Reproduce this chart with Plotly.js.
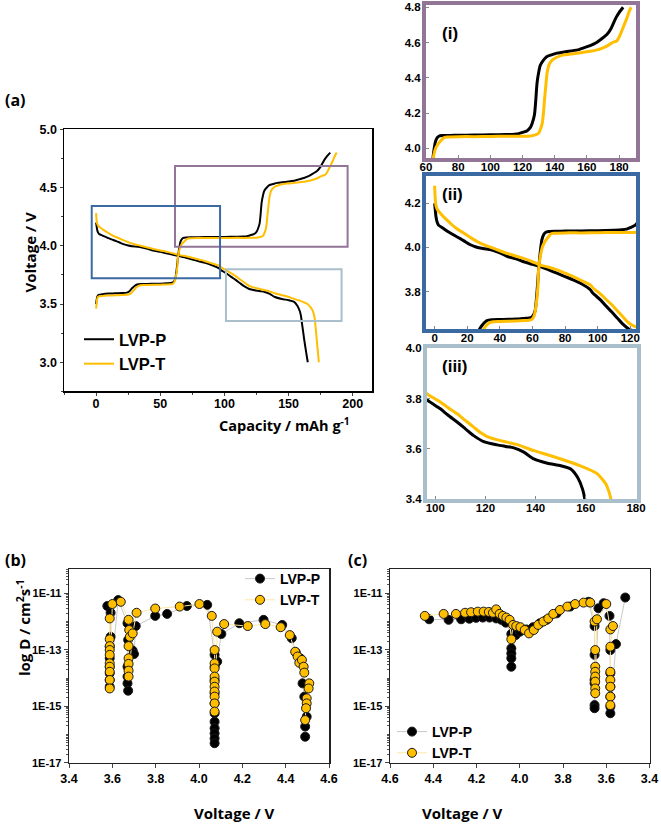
<!DOCTYPE html>
<html>
<head>
<meta charset="utf-8">
<script src="https://cdn.plot.ly/plotly-3.0.1.min.js"></script>
<style>html,body{margin:0;padding:0;background:#fff;}#chart{width:661px;height:836px;}</style>
</head>
<body>
<div id="chart"></div>
<script>
// ---------- Panel (a): charge / discharge curves ----------
const chargeP_cap = [0,0.5,1,2,5,10,15,20,24,26,28,30,32,35,40,45,50,55,58,59.7,61,61.8,62.8,63.8,64.8,65.8,67,68,70,75,80,90,100,110,115,117.7,120,122.9,125,126,127.4,128.2,129,130,131,133,135,138,141.4,145,150,155,158,162,166,169,172.4,175,176.5,178,180,182.5];
const chargeP_V   = [3.50,3.54,3.565,3.578,3.585,3.59,3.592,3.595,3.598,3.61,3.635,3.655,3.668,3.672,3.673,3.674,3.675,3.678,3.68,3.685,3.70,3.72,3.80,3.90,3.98,4.035,4.06,4.068,4.072,4.073,4.074,4.075,4.076,4.078,4.08,4.083,4.09,4.10,4.12,4.142,4.19,4.27,4.37,4.43,4.47,4.50,4.52,4.53,4.54,4.545,4.552,4.56,4.57,4.582,4.60,4.62,4.645,4.68,4.71,4.74,4.77,4.80];
const chargeT_cap = [0,0.5,1,2,5,10,15,20,25,27,29.5,31,33.5,36,40,50,55,58,59.7,61,62.4,63.3,63.8,64.8,66,67.2,68.5,70,71,73,80,90,100,110,120,125,127,130,131.2,132.2,133,133.6,134.5,135.3,136.5,138.4,141,145.6,150,155,162,167,172.4,176,178.6,180.5,182.7,184.5,186.4,187.5];
const chargeT_V   = [3.46,3.51,3.55,3.565,3.57,3.573,3.575,3.578,3.582,3.59,3.62,3.64,3.658,3.663,3.664,3.666,3.668,3.67,3.674,3.69,3.747,3.82,3.90,3.96,4.00,4.02,4.035,4.05,4.06,4.064,4.066,4.066,4.067,4.068,4.068,4.07,4.073,4.085,4.11,4.14,4.20,4.27,4.36,4.43,4.475,4.50,4.515,4.53,4.535,4.54,4.55,4.56,4.58,4.60,4.61,4.64,4.69,4.73,4.78,4.80];
const dischP_cap = [0,0.4,0.8,1.5,2.5,5,8.6,12,15.7,19,21.9,25,28,34,40,44.4,50,54.6,60,64.8,70,75,80,85,90,95.5,97,102,105,108.7,112,115.3,119.3,124.7,128,131.3,135.3,139.3,144.7,150,154,156.7,158.7,159.6,160.5,161.5,162.5,163.5,164.5,165];
const dischP_V   = [4.20,4.17,4.14,4.115,4.10,4.088,4.07,4.055,4.04,4.025,4.012,4.003,3.997,3.99,3.975,3.96,3.948,3.935,3.923,3.913,3.898,3.883,3.868,3.853,3.835,3.808,3.793,3.76,3.735,3.707,3.68,3.653,3.629,3.616,3.61,3.604,3.587,3.56,3.543,3.533,3.52,3.487,3.44,3.40,3.33,3.25,3.17,3.10,3.03,3.00];
const dischT_cap = [0,0.3,0.8,2,3.5,6,9.6,13,17.8,22,26,30,34,40,44.4,50,54.6,60,64.8,70,75,80,85,90,95.5,97,102,105,108.7,112,115.3,118,120.7,126,132.7,136,139.3,146,152.7,159.3,162,164.7,166.5,168,169.2,170,170.8,171.5,172.3,173,173.6];
const dischT_V   = [4.28,4.23,4.19,4.168,4.155,4.135,4.11,4.088,4.065,4.045,4.027,4.013,4.002,3.985,3.973,3.96,3.95,3.935,3.92,3.91,3.898,3.883,3.868,3.85,3.83,3.817,3.787,3.765,3.74,3.713,3.687,3.665,3.649,3.633,3.617,3.605,3.593,3.573,3.551,3.527,3.515,3.50,3.48,3.46,3.43,3.40,3.33,3.25,3.15,3.07,3.00];

// ---------- Panel (b): charge GITT, log10 D ----------
const bP_V   = [3.577,3.592,3.592,3.588,3.588,3.588,3.588,3.588,3.588,3.627,3.670,3.673,3.670,3.670,3.670,3.673,3.694,3.700,3.708,3.798,3.853,3.944,4.038,4.072,4.072,4.072,4.072,4.072,4.072,4.072,4.072,4.072,4.072,4.072,4.084,4.103,4.186,4.298,4.384,4.428,4.447,4.467,4.478,4.486,4.497,4.490,4.490];
const bP_logD = [-11.45,-11.69,-12.54,-12.89,-13.30,-13.60,-13.83,-14.07,-14.31,-11.24,-12.06,-12.65,-13.60,-13.95,-14.19,-14.45,-13.03,-13.15,-12.16,-11.80,-11.73,-11.45,-11.41,-13.18,-13.60,-14.07,-14.54,-14.90,-15.25,-15.55,-15.78,-15.96,-16.14,-16.31,-13.42,-12.44,-12.06,-11.94,-12.12,-12.59,-13.10,-13.30,-14.19,-14.66,-15.37,-15.72,-16.08];
const bT_V   = [3.588,3.588,3.588,3.588,3.588,3.588,3.588,3.588,3.588,3.588,3.600,3.639,3.675,3.678,3.681,3.675,3.675,3.675,3.675,3.675,3.694,3.712,3.798,3.911,4.002,4.059,4.072,4.072,4.072,4.072,4.072,4.072,4.072,4.072,4.072,4.072,4.084,4.116,4.225,4.306,4.377,4.419,4.444,4.455,4.463,4.475,4.483,4.486,4.509,4.506,4.497,4.497,4.494,4.490];
const bT_logD = [-11.89,-12.63,-12.87,-13.01,-13.18,-13.48,-13.60,-13.78,-14.07,-14.37,-11.38,-11.30,-11.94,-12.30,-12.54,-12.87,-13.30,-13.50,-13.74,-13.95,-12.42,-11.69,-11.54,-11.47,-11.38,-11.80,-13.01,-13.48,-13.66,-13.95,-14.13,-14.31,-14.48,-14.66,-14.90,-15.19,-12.36,-12.09,-12.16,-12.09,-12.20,-12.48,-13.07,-13.24,-13.46,-13.36,-13.60,-13.81,-14.19,-14.37,-14.72,-14.90,-15.07,-15.49];

// ---------- Panel (c): discharge GITT, log10 D ----------
const cP_V   = [4.419,4.329,4.271,4.233,4.202,4.171,4.140,4.109,4.085,4.065,4.039,4.039,4.039,4.039,4.039,4.019,4.000,3.969,3.938,3.907,3.876,3.829,3.767,3.682,3.654,3.654,3.654,3.654,3.654,3.654,3.636,3.612,3.585,3.581,3.581,3.581,3.581,3.581,3.581,3.555,3.512];
const cP_logD = [-11.92,-11.94,-11.92,-11.90,-11.87,-11.86,-11.86,-11.89,-11.94,-12.04,-12.44,-12.95,-13.13,-13.30,-13.60,-12.48,-12.36,-12.28,-12.20,-12.06,-11.94,-11.71,-11.47,-11.30,-12.16,-13.18,-14.07,-14.19,-14.96,-15.07,-11.53,-11.35,-11.80,-13.01,-13.83,-14.31,-14.66,-15.02,-15.25,-12.80,-11.15];
const cT_V   = [4.439,4.352,4.295,4.253,4.225,4.194,4.167,4.143,4.124,4.109,4.093,4.078,4.062,4.047,4.039,4.031,4.016,3.997,3.977,3.957,3.935,3.915,3.891,3.868,3.845,3.814,3.780,3.744,3.705,3.674,3.654,3.651,3.651,3.651,3.651,3.651,3.651,3.651,3.643,3.600,3.581,3.569,3.581,3.581,3.581,3.581,3.581,3.581];
const cT_logD = [-11.80,-11.73,-11.73,-11.69,-11.67,-11.65,-11.65,-11.66,-11.69,-11.57,-11.73,-11.80,-11.86,-11.94,-12.63,-12.12,-12.16,-12.20,-12.30,-12.42,-12.30,-12.12,-12.00,-11.89,-11.73,-11.59,-11.47,-11.38,-11.33,-11.33,-12.00,-13.01,-13.60,-13.78,-13.95,-14.13,-14.37,-14.54,-11.92,-11.38,-12.28,-12.16,-12.89,-13.78,-14.07,-14.31,-14.66,-14.96];

// tick labels
const dTickVals = [1e-17,1e-15,1e-13,1e-11];
const dTickText = ['1E-17','1E-15','1E-13','1E-11'];

// ---------- styling / layout ----------
const W = 661, H = 836;
const px = (a, b) => [a / W, b / W];
const py = (top, bottom) => [1 - bottom / H, 1 - top / H];
const BLACK = '#000000', YEL = '#FFBE00';
const ARIAL = 'Liberation Sans, Arial, sans-serif';
const OPEN = 'Open Sans, Liberation Sans, sans-serif';
const toD = a => a.map(v => Math.pow(10, v));

function curve(x, y, color, w, xa, ya, name, show, leg) {
  return {x: x, y: y, type: 'scatter', mode: 'lines', name: name,
    line: {color: color, width: w, shape: 'spline', smoothing: 0.6},
    xaxis: xa, yaxis: ya, showlegend: !!show, legend: leg || 'legend', hoverinfo: 'skip'};
}
function dots(x, y, fill, lineCol, xa, ya, name, leg) {
  return {x: x, y: toD(y), type: 'scatter', mode: 'lines+markers', name: name,
    line: {color: lineCol, width: 1},
    marker: {size: 9, color: fill, line: {color: '#1a1a1a', width: 1}},
    xaxis: xa, yaxis: ya, legend: leg, hoverinfo: 'skip'};
}

const traces = [
  // main (a)
  curve(dischP_cap, dischP_V, BLACK, 2, 'x', 'y', 'LVP-P', false),
  curve(dischT_cap, dischT_V, YEL, 2, 'x', 'y', 'LVP-T', false),
  curve(chargeP_cap, chargeP_V, BLACK, 2, 'x', 'y', 'LVP-P', true),
  curve(chargeT_cap, chargeT_V, YEL, 2, 'x', 'y', 'LVP-T', true),
  // inset (i)
  curve(chargeP_cap, chargeP_V, BLACK, 3, 'x2', 'y2', 'LVP-P', false),
  curve(chargeT_cap, chargeT_V, YEL, 3, 'x2', 'y2', 'LVP-T', false),
  // inset (ii)
  curve(chargeP_cap, chargeP_V, BLACK, 3, 'x3', 'y3', 'LVP-P', false),
  curve(dischP_cap, dischP_V, BLACK, 3, 'x3', 'y3', 'LVP-P', false),
  curve(chargeT_cap, chargeT_V, YEL, 3, 'x3', 'y3', 'LVP-T', false),
  curve(dischT_cap, dischT_V, YEL, 3, 'x3', 'y3', 'LVP-T', false),
  // inset (iii)
  curve(dischP_cap, dischP_V, BLACK, 3, 'x4', 'y4', 'LVP-P', false),
  curve(dischT_cap, dischT_V, YEL, 3, 'x4', 'y4', 'LVP-T', false),
  // (b)
  dots(bP_V, bP_logD, BLACK, '#c8c8c8', 'x5', 'y5', 'LVP-P', 'legend2'),
  dots(bT_V, bT_logD, YEL, '#ffe7a3', 'x5', 'y5', 'LVP-T', 'legend2'),
  // (c)
  dots(cP_V, cP_logD, BLACK, '#c8c8c8', 'x6', 'y6', 'LVP-P', 'legend3'),
  dots(cT_V, cT_logD, YEL, '#ffe7a3', 'x6', 'y6', 'LVP-T', 'legend3')
];

const tickFontMain = {family: ARIAL, size: 12.5, color: '#000', weight: 700};
const tickFontInset = {family: ARIAL, size: 11.5, color: '#000', weight: 700};
const base = {showgrid: false, zeroline: false, showline: true, mirror: true, fixedrange: true};

function insetAxis(domain, range, dtick, color, fmt, anchor, standoff) {
  return Object.assign({}, base, {domain: domain, range: range, dtick: dtick, tick0: 0,
    linecolor: color, linewidth: 4, ticks: 'inside', ticklen: 3, tickcolor: '#888',
    tickfont: tickFontInset, tickformat: fmt, anchor: anchor, ticklabelstandoff: standoff});
}

const PURPLE = '#927597', BLUE = '#3b6aa3', LIGHT = '#a9bfcc';

const layout = {
  width: W, height: H, margin: {l: 0, r: 0, t: 0, b: 0},
  paper_bgcolor: '#fff', plot_bgcolor: '#fff',
  xaxis: Object.assign({}, base, {domain: px(64, 372), range: [-25, 215], dtick: 50, tick0: 0,
    linecolor: '#000', linewidth: 1.5, ticks: 'outside', ticklen: 3, ticklabelstandoff: -3,
    minor: {dtick: 25, ticks: 'outside', ticklen: 2}, tickfont: tickFontMain, anchor: 'y'}),
  yaxis: Object.assign({}, base, {domain: py(129.3, 391.4), range: [2.75, 5.0], dtick: 0.5, tick0: 0,
    linecolor: '#000', linewidth: 1.5, ticks: 'outside', ticklen: 3, tickformat: '.1f',
    minor: {dtick: 0.25, ticks: 'outside', ticklen: 2}, tickfont: tickFontMain, anchor: 'x'}),
  xaxis2: insetAxis(px(426, 636), [60, 190.5], 20, PURPLE, 'd', 'y2', -5),
  yaxis2: insetAxis(py(5, 158.3), [3.943, 4.813], 0.2, PURPLE, '.1f', 'x2', -1),
  xaxis3: insetAxis(px(426, 636), [-5.3, 123.5], 20, BLUE, 'd', 'y3', -5),
  yaxis3: insetAxis(py(176, 329), [3.63, 4.324], 0.2, BLUE, '.1f', 'x3', -1),
  xaxis4: insetAxis(px(427, 637), [96.7, 180.4], 20, LIGHT, 'd', 'y4', -5),
  yaxis4: insetAxis(py(348.3, 499.3), [3.3995, 4.0005], 0.2, LIGHT, '.1f', 'x4', -1),
  xaxis5: Object.assign({}, base, {domain: px(69, 329), range: [3.4, 4.6], dtick: 0.2, tick0: 0,
    tickformat: '.1f', linecolor: '#222', linewidth: 1.5, ticks: 'outside', ticklen: 4,
    tickfont: tickFontMain, anchor: 'y5'}),
  yaxis5: Object.assign({}, base, {domain: py(569.3, 762.7), type: 'log', range: [-17, -10.15],
    tickmode: 'array', tickvals: dTickVals, ticktext: dTickText,
    linecolor: '#222', linewidth: 1.5, ticks: 'outside', ticklen: 4,
    minor: {dtick: 'D1', ticks: 'outside', ticklen: 2, tickcolor: '#555'},
    tickfont: {family: ARIAL, size: 11, color: '#000', weight: 700}, anchor: 'x5'}),
  xaxis6: Object.assign({}, base, {domain: px(390, 649.5), range: [4.6, 3.4], dtick: 0.2, tick0: 0,
    tickformat: '.1f', linecolor: '#222', linewidth: 1.5, ticks: 'outside', ticklen: 4,
    tickfont: tickFontMain, anchor: 'y6'}),
  yaxis6: Object.assign({}, base, {domain: py(569.3, 762.7), type: 'log', range: [-17, -10.15],
    tickmode: 'array', tickvals: dTickVals, ticktext: dTickText,
    linecolor: '#222', linewidth: 1.5, ticks: 'outside', ticklen: 4,
    minor: {dtick: 'D1', ticks: 'outside', ticklen: 2, tickcolor: '#555'},
    tickfont: {family: ARIAL, size: 11, color: '#000', weight: 700}, anchor: 'x6'}),
  legend: {x: 79 / W, y: 1 - 322 / H, xanchor: 'left', yanchor: 'top', bgcolor: 'rgba(0,0,0,0)',
    font: {family: ARIAL, size: 16.5, color: '#000', weight: 700}, tracegroupgap: 0},
  legend2: {x: 240 / W, y: 1 - 563 / H, xanchor: 'left', yanchor: 'top', bgcolor: 'rgba(0,0,0,0)',
    font: {family: ARIAL, size: 14, color: '#000', weight: 700}, tracegroupgap: 0},
  legend3: {x: 392 / W, y: 1 - 716 / H, xanchor: 'left', yanchor: 'top', bgcolor: 'rgba(0,0,0,0)',
    font: {family: ARIAL, size: 14, color: '#000', weight: 700}, tracegroupgap: 0},
  shapes: [
    {type: 'rect', xref: 'x', yref: 'y', x0: 61.5, x1: 196, y0: 3.992, y1: 4.685, line: {color: PURPLE, width: 2}},
    {type: 'rect', xref: 'x', yref: 'y', x0: -3.4, x1: 96.6, y0: 3.721, y1: 4.342, line: {color: BLUE, width: 2}},
    {type: 'rect', xref: 'x', yref: 'y', x0: 101.2, x1: 191.3, y0: 3.354, y1: 3.798, line: {color: LIGHT, width: 2}}
  ],
  annotations: [
    {text: '(a)', x: 3 / W, y: 1 - 100 / H, xref: 'paper', yref: 'paper', xanchor: 'left', yanchor: 'middle', showarrow: false,
      font: {family: OPEN, size: 16, color: '#000', weight: 700}},
    {text: '(b)', x: 3 / W, y: 1 - 560 / H, xref: 'paper', yref: 'paper', xanchor: 'left', yanchor: 'middle', showarrow: false,
      font: {family: OPEN, size: 16, color: '#000', weight: 700}},
    {text: '(c)', x: 346 / W, y: 1 - 560 / H, xref: 'paper', yref: 'paper', xanchor: 'left', yanchor: 'middle', showarrow: false,
      font: {family: OPEN, size: 16, color: '#000', weight: 700}},
    {text: '(i)', x: 440 / W, y: 1 - 33 / H, xref: 'paper', yref: 'paper', xanchor: 'left', yanchor: 'middle', showarrow: false,
      font: {family: ARIAL, size: 17, color: '#000', weight: 700}},
    {text: '(ii)', x: 440 / W, y: 1 - 195 / H, xref: 'paper', yref: 'paper', xanchor: 'left', yanchor: 'middle', showarrow: false,
      font: {family: ARIAL, size: 17, color: '#000', weight: 700}},
    {text: '(iii)', x: 440 / W, y: 1 - 366 / H, xref: 'paper', yref: 'paper', xanchor: 'left', yanchor: 'middle', showarrow: false,
      font: {family: ARIAL, size: 17, color: '#000', weight: 700}},
    {text: 'Voltage / V', x: 17 / W, y: 1 - 210 / H, xref: 'paper', yref: 'paper', textangle: -90, showarrow: false,
      font: {family: OPEN, size: 15, color: '#000', weight: 700}},
    {text: 'Capacity / mAh g<sup>-1</sup>', x: 217 / W, y: 1 - 424 / H, xref: 'paper', yref: 'paper', showarrow: false,
      font: {family: OPEN, size: 14.5, color: '#000', weight: 700}},
    {text: 'log D / cm<sup>2</sup>s<sup>-1</sup>', x: 11 / W, y: 1 - 678 / H, xref: 'paper', yref: 'paper', textangle: -90, showarrow: false,
      font: {family: OPEN, size: 15, color: '#000', weight: 700}},
    {text: 'Voltage / V', x: 192 / W, y: 1 - 825 / H, xref: 'paper', yref: 'paper', showarrow: false,
      font: {family: OPEN, size: 15, color: '#000', weight: 700}},
    {text: 'Voltage / V', x: 505 / W, y: 1 - 825 / H, xref: 'paper', yref: 'paper', showarrow: false,
      font: {family: OPEN, size: 15, color: '#000', weight: 700}}
  ]
};

Plotly.newPlot('chart', traces, layout, {staticPlot: true, displayModeBar: false});
</script>
</body>
</html>
